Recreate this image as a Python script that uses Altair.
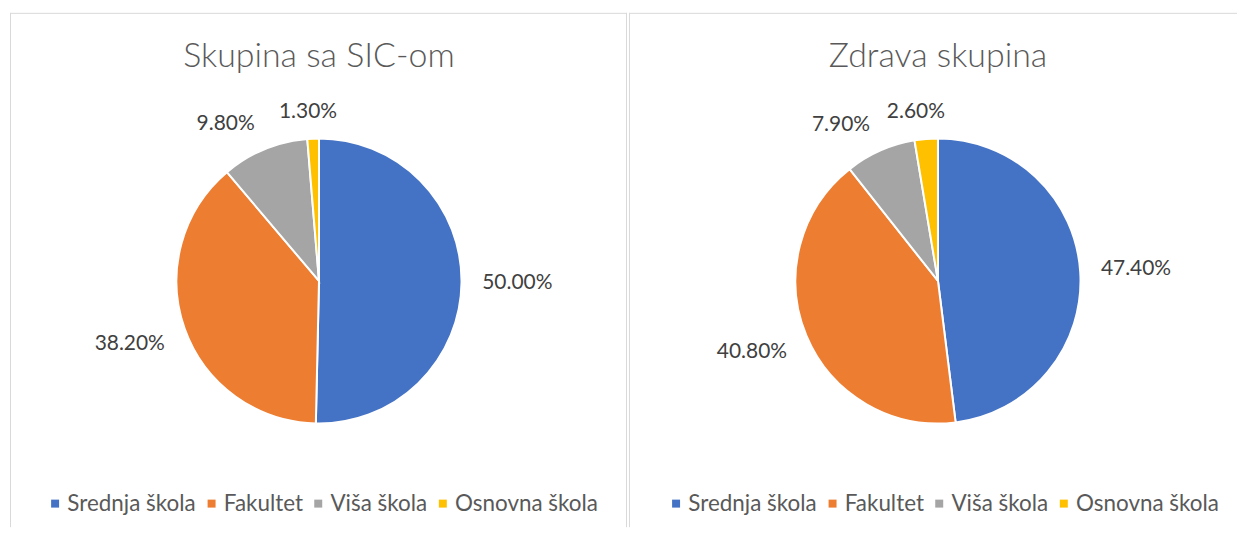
import altair as alt
import pandas as pd

categories = ["Srednja škola", "Fakultet", "Viša škola", "Osnovna škola"]
colors = ["#4472C4", "#ED7D31", "#A5A5A5", "#FFC000"]
group_titles = ["Skupina sa SIC-om", "Zdrava skupina"]
sic_values = [50.0, 38.2, 9.8, 1.3]
healthy_values = [47.4, 40.8, 7.9, 2.6]
sic_labels = ["50.00%", "38.20%", "9.80%", "1.30%"]
healthy_labels = ["47.40%", "40.80%", "7.90%", "2.60%"]

W1, W2, H = 619, 610, 516
CX, CY, R = 310, 269, 143
FONT = "Lato"
BORDER = "#d9d9d9"


def panel(title, values, labels, width, legend_x, right_border):
    df = pd.DataFrame({"cat": categories, "value": values, "label": labels,
                       "order": list(range(len(categories)))})
    base = alt.Chart(df)
    color = alt.Color(
        "cat:N",
        scale=alt.Scale(domain=categories, range=colors),
        sort=categories,
        legend=alt.Legend(
            title=None, orient="none", legendX=legend_x, legendY=481,
            direction="horizontal", columns=4, symbolType="square",
            symbolSize=64, symbolStrokeWidth=0, symbolOffset=2, labelFont=FONT,
            labelFontSize=22.5, labelColor="#595959", labelOffset=1,
            columnPadding=2, padding=0, labelLimit=400,
        ),
    )
    arcs = base.mark_arc(radius=R, stroke="white", strokeWidth=2).encode(
        theta=alt.Theta("value:Q", stack=True),
        color=color,
        order=alt.Order("order:Q"),
        x=alt.value(CX),
        y=alt.value(CY),
    )
    texts = (
        base.transform_joinaggregate(total="sum(value)")
        .transform_window(cum="sum(value)", sort=[alt.SortField("order")], frame=[None, 0])
        .transform_calculate(mid="2*PI*(datum.cum - datum.value/2)/datum.total")
        .transform_calculate(hw="length(datum.label)*6.5")
        .transform_calculate(
            lx=f"{CX}+{R + 17}*sin(datum.mid)+datum.hw*clamp(sin(datum.mid)/0.3,-1,1)")
        .transform_calculate(
            ly=f"{CY}-{R + 17}*cos(datum.mid)-10*clamp(cos(datum.mid)/0.3,-1,1)")
        .mark_text(font=FONT, fontSize=21, color="#404040", baseline="middle")
        .encode(x=alt.X("lx:Q", scale=None), y=alt.Y("ly:Q", scale=None), text="label:N")
    )
    ttl = alt.Chart(pd.DataFrame({"t": [title]})).mark_text(
        font=FONT, fontSize=34, fontWeight=300, color="#595959", baseline="alphabetic"
    ).encode(x=alt.value(CX), y=alt.value(54), text="t:N")
    one = pd.DataFrame({"k": [0]})
    top = alt.Chart(one).mark_rule(color=BORDER, strokeWidth=1).encode(
        x=alt.value(0), x2=alt.value(width), y=alt.value(0.5))
    layers = [top, arcs, texts, ttl]
    left = alt.Chart(one).mark_rule(color=BORDER, strokeWidth=1).encode(
        x=alt.value(0.5), y=alt.value(0), y2=alt.value(H))
    layers.append(left)
    if right_border:
        rgt = alt.Chart(one).mark_rule(color=BORDER, strokeWidth=1).encode(
            x=alt.value(width - 0.5), y=alt.value(0), y2=alt.value(H))
        layers.append(rgt)
    return alt.layer(*layers).properties(width=width, height=H)


p1 = panel(group_titles[0], sic_values, sic_labels, W1, 32, True)
p2 = panel(group_titles[1], healthy_values, healthy_labels, W2, 34, False)

chart = (
    alt.hconcat(p1, p2, spacing=0)
    .resolve_scale(color="independent")
    .resolve_legend(color="independent")
    .properties(padding={"left": 1, "top": 3, "right": 0, "bottom": 0})
    .configure_view(stroke="transparent")
)

chart.save("out.html", embed_options={"renderer": "svg", "actions": False})
